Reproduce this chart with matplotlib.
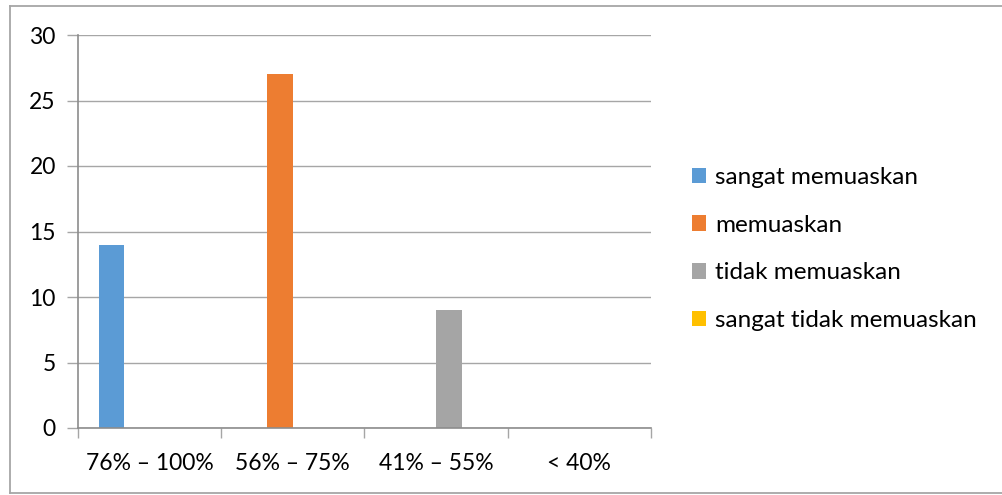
import matplotlib
matplotlib.use("Agg")
import matplotlib.pyplot as plt
from matplotlib.lines import Line2D
from matplotlib.patches import Patch
import numpy as np

categories = ["76% – 100%", "56% – 75%", "41% – 55%", "< 40%"]
series_names = ["sangat memuaskan", "memuaskan", "tidak memuaskan", "sangat tidak memuaskan"]
sangat_memuaskan = [14, 0, 0, 0]
memuaskan = [0, 27, 0, 0]
tidak_memuaskan = [0, 0, 9, 0]
sangat_tidak_memuaskan = [0, 0, 0, 0]
colors = ["#5B9BD5", "#ED7D31", "#A5A5A5", "#FFC000"]
yticks = [0, 5, 10, 15, 20, 25, 30]

plt.rcParams['font.family'] = ['Lato', 'DejaVu Sans']

W, H = 1003, 495
fig = plt.figure(figsize=(W / 100, H / 100), dpi=100)
ax = fig.add_axes([78 / W, 1 - 428 / H, (651 - 78) / W, (428 - 35) / H])

series = [sangat_memuaskan, memuaskan, tidak_memuaskan, sangat_tidak_memuaskan]
x = np.arange(len(categories))
bw = 25.5 / 143.3
offsets = (np.arange(4) - 1.5) * bw
for vals, off, col, name in zip(series, offsets, colors, series_names):
    ax.bar(x + off, vals, width=bw, color=col, label=name, zorder=3)

ax.set_xlim(-0.5, len(categories) - 0.5)
ax.set_ylim(0, 30)
ax.set_yticks(yticks)
ax.set_yticklabels([str(v) for v in yticks], fontsize=16.5)
ax.yaxis.grid(True, color="#A6A6A6", linewidth=1.0, zorder=0)
ax.tick_params(axis='y', length=8, color="#A6A6A6", pad=8, width=1.0)
ax.set_xticks(np.arange(-0.5, len(categories), 1.0))
ax.set_xticklabels([])
ax.set_xticks(x, minor=True)
ax.set_xticklabels(categories, minor=True, fontsize=16.5)
ax.tick_params(axis='x', which='major', length=7, color="#A6A6A6", width=1.0)
ax.tick_params(axis='x', which='minor', length=0, pad=18)
for s in ['top', 'right']:
    ax.spines[s].set_visible(False)
ax.spines['left'].set_color("#8C8C8C")
ax.spines['bottom'].set_color("#8C8C8C")
ax.spines['left'].set_linewidth(1.2)
ax.spines['bottom'].set_linewidth(1.2)
ax.spines['left'].set_zorder(4)
ax.spines['bottom'].set_zorder(4)

handles = [Patch(facecolor=c, edgecolor='none') for c in colors]
leg = fig.legend(handles, series_names, loc='center left',
                 bbox_to_anchor=(670 / W, 1 - 249 / H), frameon=False,
                 fontsize=17.5, handlelength=0.6, handleheight=0.6,
                 handletextpad=0.35, labelspacing=1.1)

# chart border
bc = "#A6A6A6"
fig.add_artist(Line2D([10 / W, 10 / W], [1 - 6 / H, 1 - 493 / H], color=bc, lw=1.3))
fig.add_artist(Line2D([10 / W, 1.0], [1 - 6 / H, 1 - 6 / H], color=bc, lw=1.3))
fig.add_artist(Line2D([10 / W, 1.0], [1 - 493 / H, 1 - 493 / H], color=bc, lw=1.3))

fig.savefig("out.png", dpi=100)
